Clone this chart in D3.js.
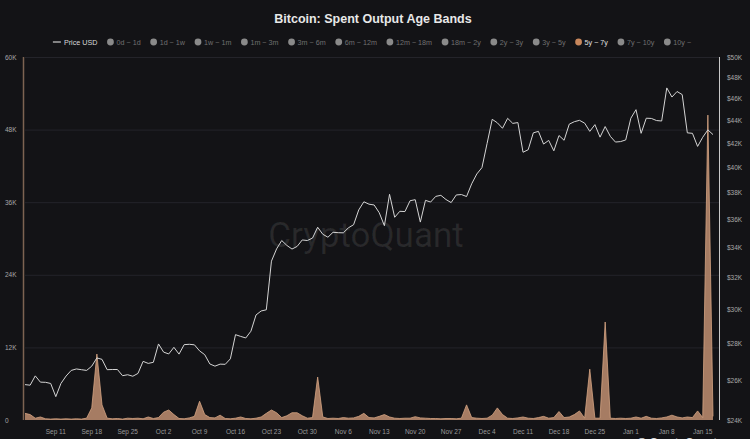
<!DOCTYPE html>
<html><head><meta charset="utf-8">
<script src="https://cdn.jsdelivr.net/npm/d3@7"></script>
<style>
html,body{margin:0;padding:0;background:#131316;}
svg{display:block;font-family:"Liberation Sans",Arial,sans-serif;}
</style>
</head><body>
<svg id="c" width="750" height="439"></svg>
<script>
// ---- data ----
const startDate = "2023-09-05";
const endDate = "2024-01-17";
const priceUSD = [
 25780,25750,26240,25910,25900,25840,25160,25840,26230,26530,26610,26570,26530,26760,27210,27130,26570,26580,26580,26250,26300,26220,26370,27020,26910,26970,
 27990,27530,27430,27800,27420,27950,27970,27940,27600,27390,26880,26760,26870,26860,27160,28520,28420,28330,28720,29680,29920,29990,33090,33920,34500,34160,33910,34090,34540,34500,34670,
 35440,34940,34730,35080,35050,35040,35400,35620,36700,37310,37130,37070,36490,35550,37880,36160,36600,36580,37390,37470,35810,37420,37290,37720,37800,37480,37250,37830,37860,37710,
 38690,39470,39980,41980,44080,43770,43290,44170,43720,43790,41240,41450,42890,43020,41930,42240,41360,42660,42250,43650,43870,43990,43740,43020,43610,42520,43440,42590,42100,42140,42280,
 44180,44950,42850,44180,44160,43970,43930,46970,46110,46630,46340,42890,42850,41730,42510,43150,42740
];
const band5y7y = [
 1100,900,300,500,200,150,200,150,200,150,200,150,300,2000,10900,2500,300,200,250,150,300,250,300,200,500,250,
 400,1300,1650,900,250,200,350,600,3100,900,400,350,800,250,200,300,500,250,200,300,500,1100,1650,1200,400,700,1200,1200,700,300,400,
 7100,500,250,300,250,400,300,350,600,1100,400,350,600,900,500,300,250,300,300,550,350,300,250,250,200,250,250,200,300,2500,
 400,300,250,300,800,2000,900,300,250,350,500,300,250,400,600,300,400,1400,400,500,900,1500,300,8400,300,300,16200,300,250,300,250,
 300,500,300,600,300,250,350,500,800,500,350,500,400,1500,400,50400,600
];
const leftTicks = [0,12000,24000,36000,48000,60000];
const rightTicks = [24000,26000,28000,30000,32000,34000,36000,38000,40000,42000,44000,46000,48000,50000];
const xTickDates = ["2023-09-11","2023-09-18","2023-09-25","2023-10-02","2023-10-09","2023-10-16","2023-10-23","2023-10-30","2023-11-06","2023-11-13","2023-11-20","2023-11-27","2023-12-04","2023-12-11","2023-12-18","2023-12-25","2024-01-01","2024-01-08","2024-01-15"];
const legendLabels = ["0d ~ 1d","1d ~ 1w","1w ~ 1m","1m ~ 3m","3m ~ 6m","6m ~ 12m","12m ~ 18m","18m ~ 2y","2y ~ 3y","3y ~ 5y","5y ~ 7y","7y ~ 10y","10y ~"];
const activeBand = "5y ~ 7y";
const titleText = "Bitcoin: Spent Output Age Bands";

// ---- setup ----
const parse = d3.utcParse("%Y-%m-%d");
const dates = d3.utcDay.range(parse(startDate), d3.utcDay.offset(parse(endDate), 1));
const data = dates.map((d, i) => ({date: d, price: priceUSD[i], band: band5y7y[i]}));

const W = 750, H = 439;
const plot = {left: 25, right: 713, top: 57, bottom: 420};
const svg = d3.select("#c");
svg.append("rect").attr("width", W).attr("height", H).attr("fill", "#131316");

const x = d3.scaleUtc().domain([dates[0], dates[dates.length - 1]]).range([plot.left, plot.right]);
const yL = d3.scaleLinear().domain([0, 60000]).range([plot.bottom, plot.top]);
const yR = d3.scaleLog().domain([24000, 50000]).range([plot.bottom, plot.top]);

// grid
svg.append("g").selectAll("line").data(leftTicks.filter(t => t > 0)).join("line")
  .attr("x1", plot.left).attr("x2", 719)
  .attr("y1", d => yL(d) + 0.5).attr("y2", d => yL(d) + 0.5)
  .attr("stroke", "#24242a").attr("stroke-width", 1);

// watermark
svg.append("text").attr("x", 366).attr("y", 247).attr("text-anchor", "middle")
  .attr("font-size", 35).attr("font-family", "Roboto, 'Liberation Sans', sans-serif")
  .attr("fill", "#ffffff").attr("fill-opacity", 0.09).text("CryptoQuant");

// axes lines
svg.append("line").attr("x1", 23.5).attr("x2", 23.5).attr("y1", plot.top).attr("y2", plot.bottom)
  .attr("stroke", "#7d6352").attr("stroke-width", 1.5);
svg.append("line").attr("x1", 719.5).attr("x2", 719.5).attr("y1", plot.top).attr("y2", plot.bottom)
  .attr("stroke", "#c8c8c8").attr("stroke-width", 1);

// area
const area = d3.area().x(d => x(d.date)).y0(plot.bottom).y1(d => yL(d.band));
svg.append("path").datum(data).attr("d", area).attr("fill", "#b3866a").attr("fill-opacity", 0.92);
svg.append("path").datum(data).attr("d", d3.line().x(d => x(d.date)).y(d => yL(d.band)))
  .attr("fill", "none").attr("stroke", "#d6a583").attr("stroke-width", 0.8);

// price line
svg.append("path").datum(data).attr("d", d3.line().x(d => x(d.date)).y(d => yR(d.price)))
  .attr("fill", "none").attr("stroke", "#d4d4d4").attr("stroke-width", 1).attr("stroke-linejoin", "round");

// left tick labels
const fmtK = v => v === 0 ? "0" : (v / 1000) + "K";
svg.append("g").selectAll("text").data(leftTicks).join("text")
  .attr("x", 5).attr("y", d => yL(d) + 2.5).attr("font-size", 6.5).attr("fill", "#a8a8a8")
  .text(fmtK);

// right tick labels
svg.append("g").selectAll("text").data(rightTicks).join("text")
  .attr("x", 727).attr("y", d => yR(d) + 2.5).attr("font-size", 6.5).attr("fill", "#a8a8a8")
  .text(d => "$" + (d / 1000) + "K");

// x tick labels
const fmtDate = d3.utcFormat("%b %-d");
svg.append("g").selectAll("text").data(xTickDates.map(parse)).join("text")
  .attr("x", d => x(d)).attr("y", 434).attr("text-anchor", "middle")
  .attr("font-size", 6.5).attr("fill", "#9a9a9a").text(fmtDate);

// title
svg.append("text").attr("x", 373).attr("y", 23).attr("text-anchor", "middle")
  .attr("font-size", 12.5).attr("font-weight", "bold").attr("fill", "#e8e8e8").text(titleText);

// legend
const lg = svg.append("g");
let cx = 0;
lg.append("line").attr("x1", cx).attr("x2", cx + 8).attr("y1", 0).attr("y2", 0)
  .attr("stroke", "#cfcfcf").attr("stroke-width", 1.2);
const t0 = lg.append("text").attr("x", cx + 11).attr("y", 2.5).attr("font-size", 7.2).attr("fill", "#d8d8d8").text("Price USD");
cx = cx + 11 + t0.node().getComputedTextLength();
legendLabels.forEach(lbl => {
  const on = lbl === activeBand;
  const c = cx + 13;
  lg.append("circle").attr("cx", c).attr("cy", 0).attr("r", 3.4).attr("fill", on ? "#c8875c" : "#8a8a8a");
  const t = lg.append("text").attr("x", c + 6).attr("y", 2.5).attr("font-size", 7.2)
    .attr("fill", on ? "#e0e0e0" : "#707070").text(lbl);
  cx = c + 6 + t.node().getComputedTextLength();
});
const lw = cx;
lg.attr("transform", `translate(${372 - lw / 2},42)`);

// credit (cut off at bottom, as in the reference)
svg.append("text").attr("x", 636).attr("y", 446).attr("font-size", 11).attr("font-weight", "bold")
  .attr("fill", "#d8d8d8").text("@ CryptoQuant");
</script>
</body></html>
